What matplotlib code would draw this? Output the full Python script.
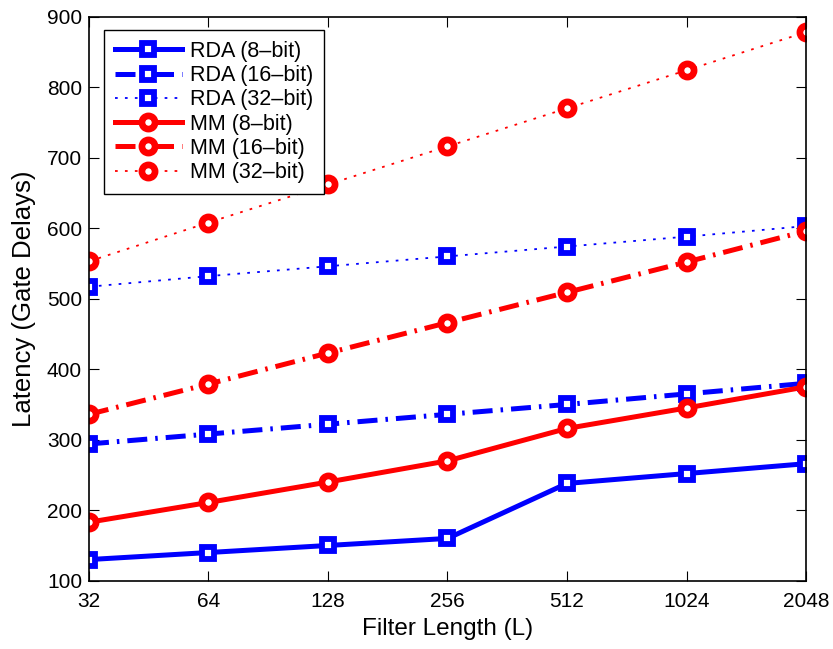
import matplotlib
matplotlib.use("Agg")
from matplotlib import pyplot as plt

plt.rcParams['font.family'] = ['Liberation Sans', 'DejaVu Sans']

# filter lengths (x axis, log2 spaced)
filter_len = [32, 64, 128, 256, 512, 1024, 2048]

# latency in gate delays
rda_8 = [130, 140, 150, 160, 238, 252, 266]
rda_16 = [294, 308, 322, 336, 350, 365, 380]
rda_32 = [517, 532, 546, 560, 574, 588, 603]
mm_8 = [183, 211, 240, 270, 316, 345, 375]
mm_16 = [336, 379, 423, 466, 509, 552, 596]
mm_32 = [553, 608, 662, 716, 770, 824, 878]

fig = plt.figure(figsize=(8.33, 6.49), dpi=100)
ax = fig.add_axes([0.1068, 0.1052, 0.8608, 0.8691])

dashdot = (0, (4, 1.6, 0.5, 1.6))
dotted = (0, (1.5, 4))

sq = dict(marker='s', markersize=8, markeredgewidth=4.2, markerfacecolor='white')
ci = dict(marker='o', markersize=9.5, markeredgewidth=4.8, markerfacecolor='white')

ax.plot(filter_len, rda_8, color='#0000ff', lw=3.6, ls='-', markeredgecolor='#0000ff',
        label='RDA (8\u2013bit)', **sq)
ax.plot(filter_len, rda_16, color='#0000ff', lw=3.6, ls=dashdot, markeredgecolor='#0000ff',
        label='RDA (16\u2013bit)', **sq)
ax.plot(filter_len, rda_32, color='#0000ff', lw=1.3, ls=dotted, markeredgecolor='#0000ff',
        label='RDA (32\u2013bit)', **sq)
ax.plot(filter_len, mm_8, color='#ff0000', lw=3.6, ls='-', markeredgecolor='#ff0000',
        label='MM (8\u2013bit)', **ci)
ax.plot(filter_len, mm_16, color='#ff0000', lw=3.6, ls=dashdot, markeredgecolor='#ff0000',
        label='MM (16\u2013bit)', **ci)
ax.plot(filter_len, mm_32, color='#ff0000', lw=1.3, ls=dotted, markeredgecolor='#ff0000',
        label='MM (32\u2013bit)', **ci)

ax.set_xscale('log', base=2)
ax.set_xlim(32, 2048)
ax.set_ylim(100, 900)
ax.set_xticks(filter_len)
ax.set_xticklabels([str(v) for v in filter_len])
ax.set_yticks(range(100, 901, 100))
ax.minorticks_off()
ax.tick_params(direction='in', length=7, width=0.8, top=True, right=True, labelsize=15)
ax.tick_params(axis='x', pad=8)
ax.tick_params(axis='y', pad=5)
for s in ax.spines.values():
    s.set_linewidth(1.2)

ax.set_xlabel('Filter Length (L)', fontsize=17.5, labelpad=5)
ax.set_ylabel('Latency (Gate Delays)', fontsize=18.5, labelpad=8)

leg = ax.legend(loc='upper left', bbox_to_anchor=(0.021, 0.976), borderaxespad=0,
                fontsize=15.5, numpoints=1, handlelength=3.1, labelspacing=0.15,
                fancybox=False, framealpha=1, edgecolor='black', borderpad=0.5,
                handletextpad=0.4)
leg.get_frame().set_linewidth(1.0)

fig.savefig('out.png', dpi=100)
